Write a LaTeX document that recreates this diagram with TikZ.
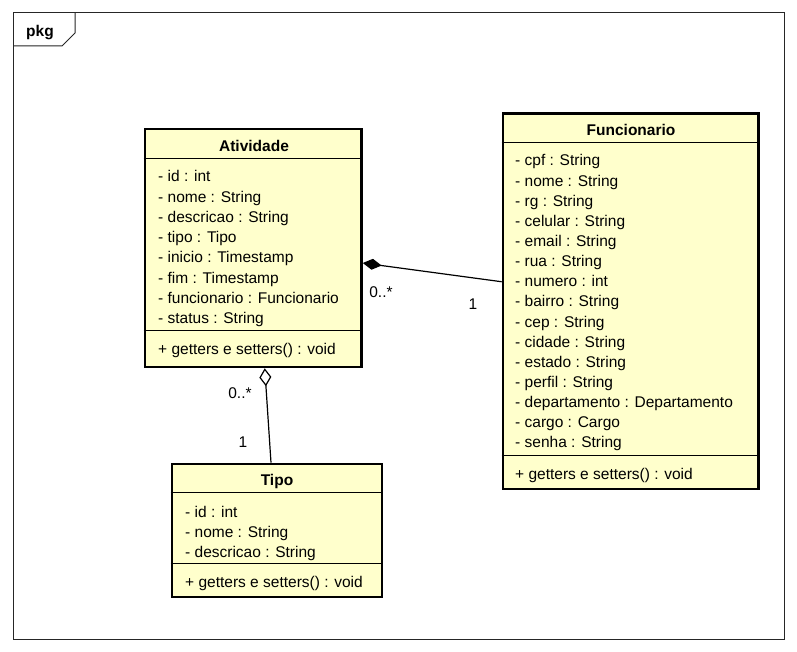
\documentclass[tikz,border=0pt]{standalone}
\usepackage{fontspec}
\setmainfont{Liberation Sans}
\usetikzlibrary{arrows.meta}
\definecolor{classfill}{HTML}{FFFFCC}
\tikzset{
  classbox/.style={draw=black, fill=classfill, line width=2.6pt, inner sep=0pt},
  sep/.style={draw=black, line width=1pt},
  attr/.style={anchor=base west, inner sep=0pt, font=\fontsize{15.5}{18}\selectfont},
  ctitle/.style={anchor=base, inner sep=0pt, font=\fontsize{15.5}{18}\selectfont\bfseries},
  mult/.style={inner sep=0pt, font=\fontsize{15.5}{18}\selectfont},
  assoc/.style={draw=black, line width=1.2pt},
}
\begin{document}
\begin{tikzpicture}[x=1pt, y=-1pt]
\useasboundingbox (0,0) rectangle (797,652);
\fill[white] (0,0) rectangle (797,652);

% package frame with its name tab
\draw[line width=1pt, black!85] (13,13) rectangle (784,639);
\draw[line width=1pt, black!85] (13,46) -- (62,46) -- (75,33) -- (75,13);
\node[ctitle] (pkgname) at (40,37) {pkg};

% class Atividade
\node[classbox, minimum width=216.5pt, minimum height=238pt] (atv) at (253.25,248) {};
\draw[sep] (atv.west |- 0,158.3) -- (atv.east |- 0,158.3);
\draw[sep] (atv.west |- 0,330) -- (atv.east |- 0,330);
\node[ctitle] (atvt) at (254,151.5) {Atividade};
\foreach \t [count=\i from 0] in {- id : int, - nome : String, - descricao : String, - tipo : Tipo, - inicio : Timestamp, - fim : Timestamp, - funcionario : Funcionario, - status : String}
  \node[attr] (atva\i) at (158,182+20.2*\i) {\t};
\node[attr] (atvm) at (158,354.5) {+ getters e setters() : void};

% class Funcionario
\node[classbox, minimum width=255.5pt, minimum height=375.5pt] (fun) at (630.75,301.25) {};
\draw[sep] (fun.west |- 0,142.7) -- (fun.east |- 0,142.7);
\draw[sep] (fun.west |- 0,455) -- (fun.east |- 0,455);
\node[ctitle] (funt) at (631,135.5) {Funcionario};
\foreach \t [count=\i from 0] in {- cpf : String, - nome : String, - rg : String, - celular : String, - email : String, - rua : String, - numero : int, - bairro : String, - cep : String, - cidade : String, - estado : String, - perfil : String, - departamento : Departamento, - cargo : Cargo, - senha : String}
  \node[attr] (funa\i) at (515,166+20.14*\i) {\t};
\node[attr] (funm) at (515,479) {+ getters e setters() : void};

% class Tipo
\node[classbox, minimum width=210pt, minimum height=133pt] (tipo) at (277,530.5) {};
\draw[sep] (tipo.west |- 0,492.7) -- (tipo.east |- 0,492.7);
\draw[sep] (tipo.west |- 0,563.3) -- (tipo.east |- 0,563.3);
\node[ctitle] (tipot) at (277,485.5) {Tipo};
\foreach \t [count=\i from 0] in {- id : int, - nome : String, - descricao : String}
  \node[attr] (tipoa\i) at (185,517+20.1*\i) {\t};
\node[attr] (tipom) at (185,587) {+ getters e setters() : void};

% composition Atividade <>-- Funcionario
\coordinate (compA) at ([yshift=-15pt]atv.east);
\coordinate (compF) at ([yshift=19.5pt]fun.west);
\draw[assoc, {Diamond[length=19pt 0 0, width=11pt 0 0, fill=black]}-] (compA) -- (compF);
\node[mult] (m1) at (381,292) {0..*};
\node[mult] (m2) at (473,304) {1};

% aggregation Atividade <>-- Tipo
\coordinate (aggA) at ([xshift=11.5pt]atv.south);
\coordinate (aggT) at ([xshift=-6pt]tipo.north);
\draw[assoc, {Diamond[open, length=18pt 0 0, width=12pt 0 0, fill=white]}-] (aggA) -- (aggT);
\node[mult] (m3) at (240,393) {0..*};
\node[mult] (m4) at (243,442) {1};
\end{tikzpicture}
\end{document}
